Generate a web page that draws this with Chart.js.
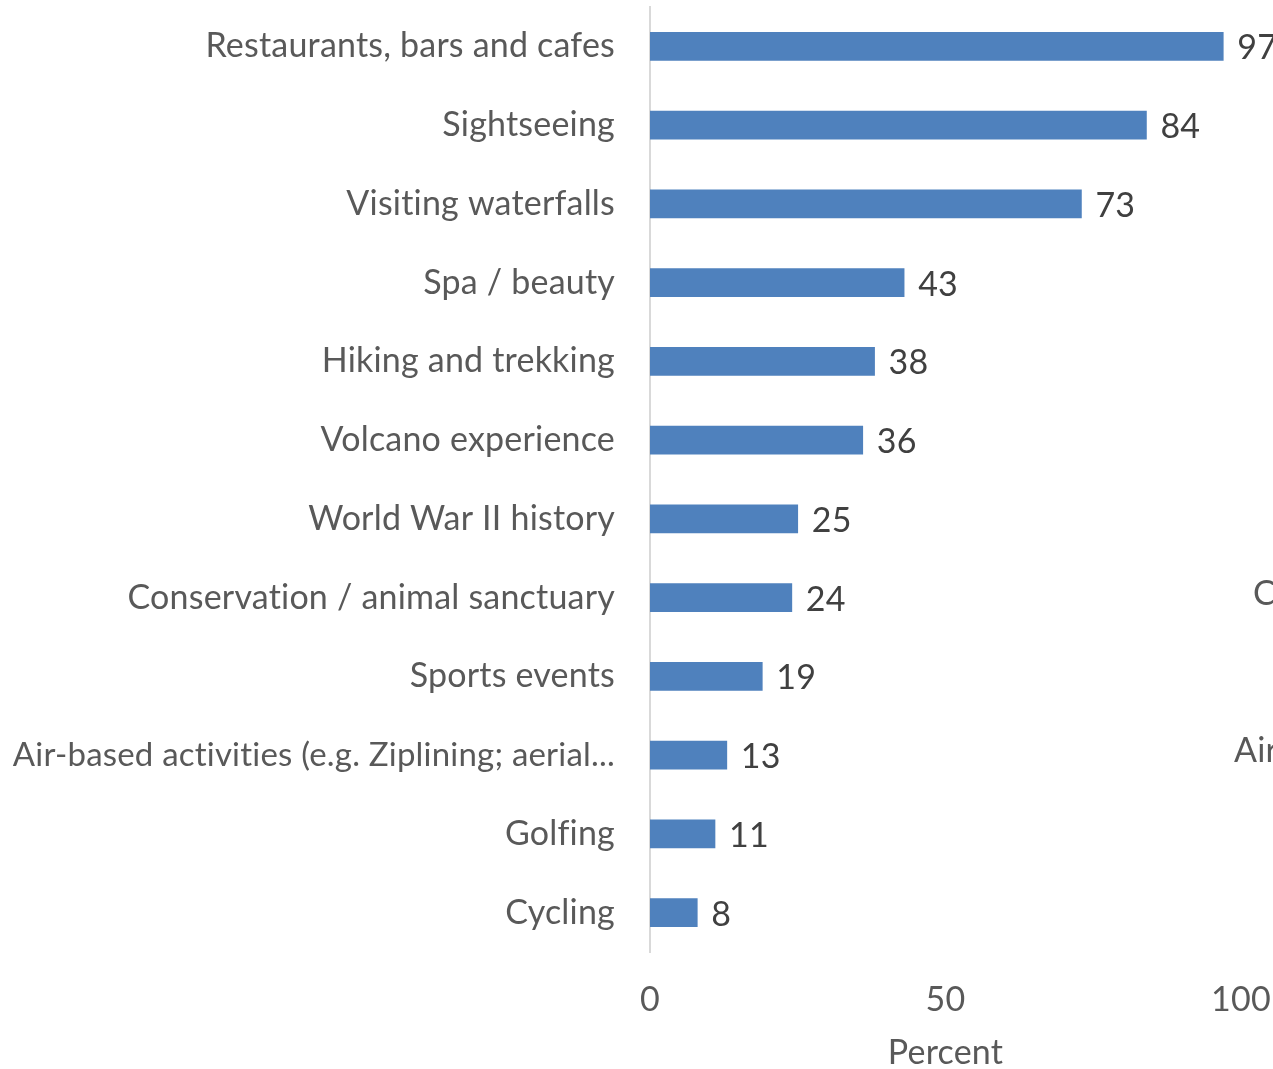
<!DOCTYPE html>
<html>
<head>
<meta charset="utf-8">
<script src="https://cdn.jsdelivr.net/npm/chart.js@4/dist/chart.umd.min.js"></script>
<style>
  html, body { margin: 0; padding: 0; background: #ffffff; }
  #wrap { width: 1273px; height: 1069px; position: relative; }
</style>
</head>
<body>
<div id="wrap"><canvas id="c" width="1273" height="1069"></canvas></div>
<script>
const categories = [
  "Restaurants, bars and cafes",
  "Sightseeing",
  "Visiting waterfalls",
  "Spa / beauty",
  "Hiking and trekking",
  "Volcano experience",
  "World War II history",
  "Conservation / animal sanctuary",
  "Sports events",
  "Air-based activities (e.g. Ziplining; aerial...",
  "Golfing",
  "Cycling"
];
const percentValues = [97, 84, 73, 43, 38, 36, 25, 24, 19, 13, 11, 8];
const xTickValues = [0, 50, 100];
const xAxisTitle = "Percent";
// fragments of a neighbouring chart's labels cut off at the right edge
const strayLabels = ["Conservation / animal sanctuary", "Air-based activities (e.g. Ziplining; aerial..."];

const FONT = "Lato, 'Open Sans', sans-serif";
const FSIZE = 34;

const noLigaturePlugin = {
  id: 'noLig',
  beforeDraw(chart) { try { chart.ctx.letterSpacing = '0.2px'; } catch (e) {} }
};

const valueLabelPlugin = {
  id: 'valueLabels',
  afterDatasetsDraw(chart) {
    const ctx = chart.ctx;
    const meta = chart.getDatasetMeta(0);
    ctx.save();
    ctx.font = FSIZE + "px " + FONT;
    ctx.fillStyle = "#404040";
    ctx.textAlign = "left";
    ctx.textBaseline = "middle";
    meta.data.forEach((bar, i) => {
      ctx.fillText(String(percentValues[i]), bar.x + 14, bar.y + 2);
    });
    ctx.restore();
  }
};

const strayPlugin = {
  id: 'stray',
  afterDraw(chart) {
    const ctx = chart.ctx;
    const y = chart.scales.y;
    ctx.save();
    ctx.font = FSIZE + "px " + FONT;
    ctx.fillStyle = "#595959";
    ctx.textAlign = "left";
    ctx.textBaseline = "middle";
    ctx.fillText(strayLabels[0], 1253, y.getPixelForValue(7) - 4);
    ctx.fillText(strayLabels[1], 1234, y.getPixelForValue(9) - 4);
    ctx.restore();
  }
};

new Chart(document.getElementById('c'), {
  type: 'bar',
  data: {
    labels: categories,
    datasets: [{
      data: percentValues,
      backgroundColor: '#4F81BD',
      borderColor: '#4F81BD',
      borderWidth: 0,
      barThickness: 28
    }]
  },
  options: {
    indexAxis: 'y',
    responsive: false,
    animation: false,
    layout: { padding: { top: 7, right: 32, left: 0, bottom: 0 } },
    plugins: {
      legend: { display: false },
      tooltip: { enabled: false }
    },
    scales: {
      x: {
        min: 0,
        max: 100,
        afterBuildTicks(scale) { scale.ticks = xTickValues.map(v => ({ value: v })); },
        afterFit(scale) {
          scale.height = 117;
          scale.paddingLeft = 0; scale.paddingRight = 0;
        },
        grid: { display: false, drawTicks: false },
        border: { display: false },
        ticks: {
          color: '#595959',
          font: { family: FONT, size: FSIZE },
          padding: 28,
          maxRotation: 0
        },
        title: {
          display: true,
          text: xAxisTitle,
          color: '#595959',
          font: { family: FONT, size: FSIZE, lineHeight: 0.95 },
          padding: { top: 0, bottom: 0 }
        }
      },
      y: {
        afterFit(scale) {
          scale.width = 650;
          scale.paddingTop = 0; scale.paddingBottom = 0;
        },
        grid: { display: false, drawTicks: false },
        border: { display: true, color: '#d9d9d9', width: 2 },
        ticks: {
          color: '#595959',
          font: (ctx) => ({ family: FONT, size: ctx.index === 9 ? 33 : FSIZE }),
          padding: 35,
          autoSkip: false
        }
      }
    }
  },
  plugins: [noLigaturePlugin, valueLabelPlugin, strayPlugin]
});
</script>
</body>
</html>
